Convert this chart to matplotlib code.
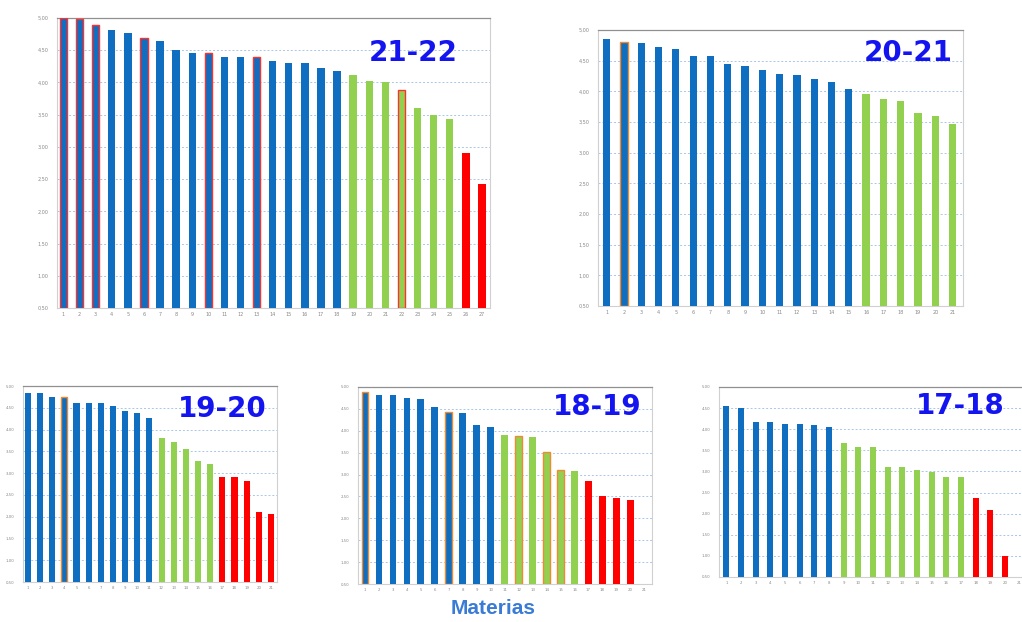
import matplotlib
matplotlib.use("Agg")
import matplotlib.pyplot as plt
from matplotlib.ticker import FuncFormatter

# ---- data ----
titles = ["21-22", "20-21", "19-20", "18-19", "17-18"]

vals_2122 = [5.00, 4.98, 4.89, 4.81, 4.77, 4.69, 4.64, 4.50, 4.46, 4.45, 4.40, 4.39, 4.39,
             4.34, 4.30, 4.30, 4.23, 4.17, 4.11, 4.03, 4.00, 3.89, 3.60, 3.49, 3.43, 2.90, 2.43]
cols_2122 = ["b"] * 18 + ["g"] * 7 + ["r"] * 2
edge_2122 = [1, 2, 3, 6, 10, 13, 22]

vals_2021 = [4.85, 4.80, 4.78, 4.73, 4.69, 4.57, 4.57, 4.45, 4.42, 4.35, 4.29, 4.26, 4.20,
             4.16, 4.04, 3.95, 3.88, 3.84, 3.64, 3.60, 3.47]
cols_2021 = ["b"] * 15 + ["g"] * 6
edge_2021 = [2]

vals_1920 = [4.85, 4.83, 4.75, 4.74, 4.62, 4.61, 4.60, 4.54, 4.43, 4.37, 4.26, 3.81, 3.71,
             3.56, 3.28, 3.22, 2.92, 2.90, 2.83, 2.11, 2.07]
cols_1920 = ["b"] * 11 + ["g"] * 5 + ["r"] * 5
edge_1920 = [4]

vals_1819 = [4.88, 4.82, 4.82, 4.74, 4.72, 4.54, 4.44, 4.40, 4.14, 4.09, 3.91, 3.89, 3.85,
             3.52, 3.11, 3.08, 2.86, 2.50, 2.46, 2.41]
cols_1819 = ["b"] * 10 + ["g"] * 6 + ["r"] * 4
edge_1819 = [1, 7, 12, 14, 15]
nticks_1819 = 21

vals_1718 = [4.54, 4.51, 4.17, 4.17, 4.13, 4.13, 4.10, 4.05, 3.67, 3.58, 3.57, 3.10, 3.10,
             3.03, 2.98, 2.87, 2.86, 2.37, 2.08, 0.99]
cols_1718 = ["b"] * 8 + ["g"] * 9 + ["r"] * 3
edge_1718 = []
nticks_1718 = 21

xlabel_text = "Materias"
ymin, ymax, ystep = 0.5, 5.0, 0.5

# ---- style ----
COLORS = {"b": "#0F6EC0", "g": "#92D050", "r": "#FF0000"}
W, H = 1022, 622
fig = plt.figure(figsize=(W / 100, H / 100), dpi=100)
fig.patch.set_facecolor("white")


def add_ax(x0, y0, x1, y1):
    return fig.add_axes([x0 / W, 1 - y1 / H, (x1 - x0) / W, (y1 - y0) / H])


def panel(box, vals, cols, edges, edgecolor, title, title_xy, width, xlim, nticks=None,
          tick_fs=3.5):
    ax = add_ax(*box)
    n = len(vals)
    xs = list(range(1, n + 1))
    ec = [edgecolor if i in edges else COLORS[c] for i, c in zip(xs, cols)]
    lw = [1.0 if i in edges else 0 for i in xs]
    ax.bar(xs, [v - ymin for v in vals], bottom=ymin, width=width,
           color=[COLORS[c] for c in cols], edgecolor=ec, linewidth=lw, zorder=3)
    ax.set_ylim(ymin, ymax)
    ax.set_xlim(*xlim)
    nt = nticks if nticks else n
    ax.set_xticks(range(1, nt + 1))
    ax.set_xticklabels([str(i) for i in range(1, nt + 1)], fontsize=tick_fs, color="#888888")
    yt = [ymin + k * ystep for k in range(int(round((ymax - ymin) / ystep)) + 1)]
    ax.set_yticks(yt)
    ax.yaxis.set_major_formatter(FuncFormatter(lambda v, p: f"{v:.2f}".replace(".", ",")))
    ax.tick_params(axis="y", labelsize=tick_fs, labelcolor="#888888", length=0, pad=6)
    ax.tick_params(axis="x", length=0, pad=3)
    ax.grid(axis="y", color="#A9C6EA", linestyle=(0, (2, 2)), linewidth=0.7, zorder=0)
    for s in ["left", "right", "bottom"]:
        ax.spines[s].set_color("#D0D0D0")
        ax.spines[s].set_linewidth(0.8)
    ax.spines["top"].set_color("#909090")
    ax.spines["top"].set_linewidth(0.9)
    fig.text(title_xy[0] / W, 1 - title_xy[1] / H, title, fontsize=20, fontweight="bold",
             color="#1414F0", ha="center", va="center", family="DejaVu Sans")
    return ax


panel((57, 18, 490, 308), vals_2122, cols_2122, edge_2122, "#FF3030", titles[0], (413, 53),
      0.46, (0.6, 27.5))
panel((598, 30, 963, 306), vals_2021, cols_2021, edge_2021, "#F08A30", titles[1], (908, 53),
      0.42, (0.5, 21.6))
panel((23, 386, 277, 582), vals_1920, cols_1920, edge_1920, "#F08A30", titles[2], (222, 409),
      0.5, (0.6, 21.5), tick_fs=2.8)
panel((358, 387, 652, 584), vals_1819, cols_1819, edge_1819, "#F08A30", titles[3], (597, 407),
      0.48, (0.5, 21.55), nticks=nticks_1819, tick_fs=2.8)
panel((719, 387, 1027, 577), vals_1718, cols_1718, edge_1718, "#F08A30", titles[4], (960, 406),
      0.42, (0.5, 21.5), nticks=nticks_1718, tick_fs=2.8)

fig.text(493 / W, 1 - 609 / H, xlabel_text, fontsize=15, fontweight="bold", color="#3A7BD5",
         ha="center", va="center", family="Liberation Sans")

fig.savefig("out.png", dpi=100, facecolor="white")
